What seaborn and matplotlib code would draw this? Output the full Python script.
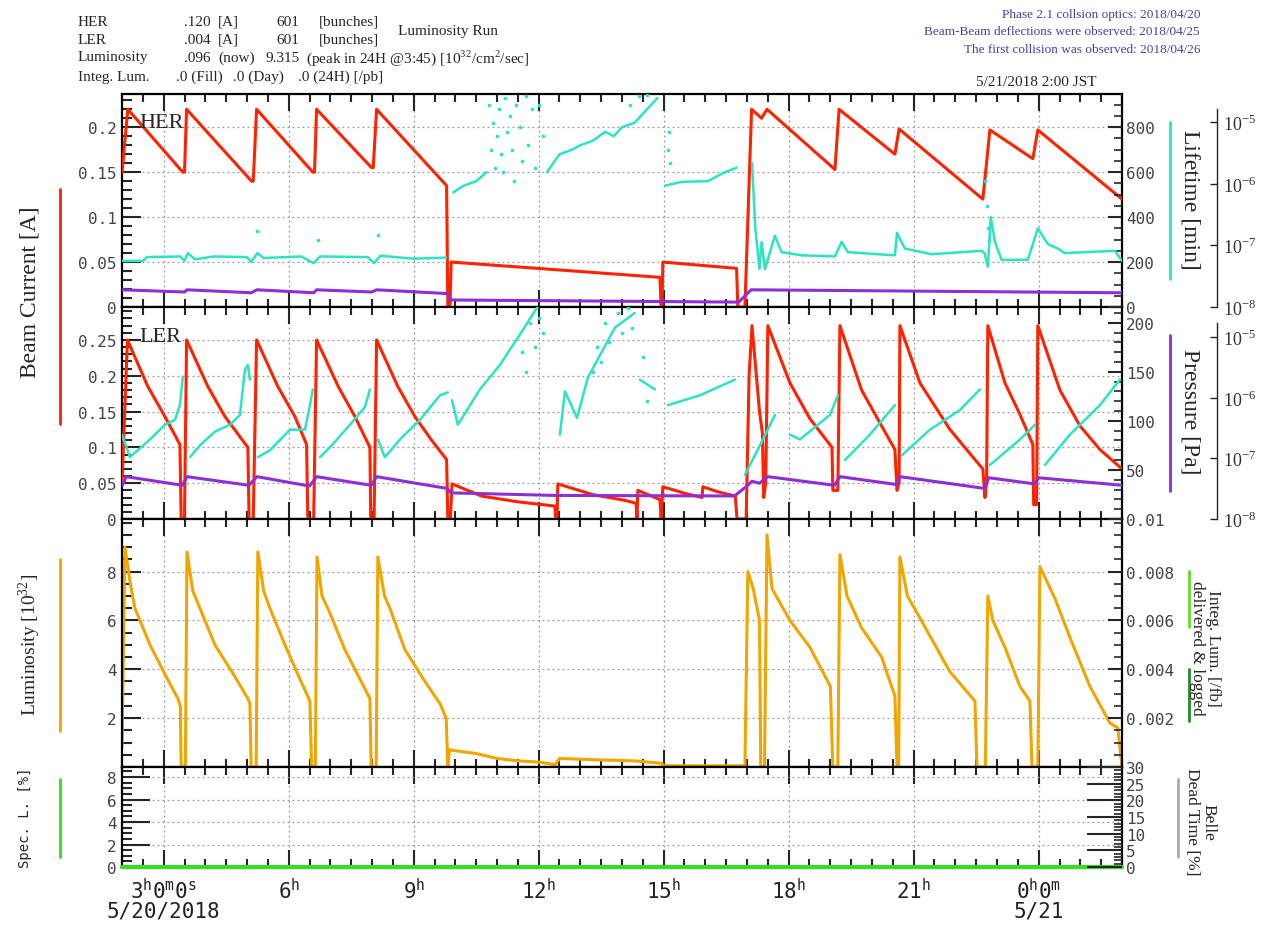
import numpy as np
import pandas as pd
import matplotlib.pyplot as plt
import matplotlib.ticker as mticker
from matplotlib.lines import Line2D
import seaborn as sns

sns.set_style("ticks")
plt.rcParams["font.family"] = ["Liberation Serif", "DejaVu Serif"]
plt.rcParams["mathtext.fontset"] = "custom"
plt.rcParams["mathtext.rm"] = "Liberation Serif"
plt.rcParams["mathtext.tt"] = "DejaVu Sans Mono"

N = np.nan
RED = "#ff2200"
CYAN = "#2ae4c4"
PURPLE = "#8e2fd6"
ORANGE = "#f0a500"
GREEN = "#33dd22"
MONO = "DejaVu Sans Mono"

# time axis: hours since 5/20 0:00
hour_ticks = [3, 6, 9, 12, 15, 18, 21, 24]
hour_labels = [r"$\mathtt{3}^{\mathtt{h}}\mathtt{0}^{\mathtt{m}}\mathtt{0}^{\mathtt{s}}$",
               r"$\mathtt{6}^{\mathtt{h}}$", r"$\mathtt{9}^{\mathtt{h}}$",
               r"$\mathtt{12}^{\mathtt{h}}$", r"$\mathtt{15}^{\mathtt{h}}$",
               r"$\mathtt{18}^{\mathtt{h}}$", r"$\mathtt{21}^{\mathtt{h}}$",
               r"$\mathtt{0}^{\mathtt{h}}\mathtt{0}^{\mathtt{m}}$"]

# HER beam current [A]
her_current = [(2.00, 0.15), (2.14, 0.22), (3.46, 0.15), (3.50, 0.15), (3.55, 0.22),
               (5.11, 0.14), (5.15, 0.14), (5.23, 0.22), (6.58, 0.15), (6.62, 0.15), (6.67, 0.22),
               (7.99, 0.155), (8.03, 0.155), (8.11, 0.22), (9.79, 0.135), (9.82, 0.0), (9.87, 0.0),
               (9.90, 0.05), (14.91, 0.033), (14.94, 0.0), (14.96, 0.0), (14.98, 0.05),
               (16.75, 0.043), (16.78, 0.0), (16.95, 0.0), (17.11, 0.22), (17.35, 0.21),
               (17.48, 0.22), (19.11, 0.153), (19.21, 0.22), (20.55, 0.17), (20.65, 0.198),
               (22.66, 0.12), (22.83, 0.197), (23.86, 0.165), (23.98, 0.197), (26.00, 0.12)]

# HER lifetime [min]
her_life = [(2.00, 205), (2.5, 205), (2.6, 222), (3.4, 225), (3.5, 205), (3.58, 240), (3.75, 212),
            (4.2, 225), (5.0, 222), (5.1, 200), (5.25, 240), (5.4, 218), (6.3, 225), (6.6, 195),
            (6.75, 225), (7.9, 222), (8.05, 195), (8.2, 228), (9.0, 215), (9.78, 220), (N, N),
            (9.95, 510), (10.2, 540), (10.5, 560), (10.75, 600), (N, N),
            (12.2, 600), (12.5, 680), (12.8, 700), (13.0, 720), (13.3, 740), (13.6, 780),
            (13.8, 760), (14.0, 800), (14.3, 820), (14.5, 860), (14.7, 900), (14.85, 930), (N, N),
            (15.03, 540), (15.43, 557), (16.06, 560), (16.47, 600), (16.75, 620), (N, N),
            (17.12, 640), (17.2, 350), (17.3, 170), (17.35, 289), (17.43, 169), (17.67, 317),
            (17.83, 244), (18.31, 230), (19.11, 225), (19.27, 290), (19.42, 244), (20.55, 230),
            (20.6, 330), (20.79, 260), (21.43, 235), (22.63, 250), (22.7, 240), (22.78, 180),
            (22.85, 400), (22.95, 290), (23.11, 210), (23.74, 210), (23.98, 350), (24.22, 280),
            (24.46, 260), (24.62, 240), (25.83, 250), (26.0, 205)]

her_life_dots = [(10.8, 900), (10.85, 700), (10.9, 820), (10.95, 620), (11.0, 760), (11.05, 880),
                 (11.1, 680), (11.15, 600), (11.2, 930), (11.25, 780), (11.3, 850), (11.35, 700),
                 (11.4, 560), (11.45, 900), (11.55, 800), (11.6, 650), (11.7, 940), (11.75, 720),
                 (11.85, 880), (11.9, 620), (12.0, 900), (12.1, 760), (14.2, 900), (14.4, 940),
                 (14.6, 945), (15.1, 700), (15.12, 780), (15.15, 640), (22.72, 560), (22.75, 450),
                 (22.78, 350), (22.8, 300), (5.24, 340), (6.7, 300), (8.15, 320)]

# HER pressure [Pa]
her_press = [(2.00, 1.9e-8), (3.50, 1.75e-8), (3.56, 1.9e-8), (5.10, 1.7e-8), (5.24, 1.9e-8),
             (6.60, 1.7e-8), (6.67, 1.9e-8), (8.00, 1.75e-8), (8.11, 1.9e-8), (9.80, 1.65e-8),
             (9.90, 1.3e-8), (16.80, 1.2e-8), (17.10, 1.9e-8), (26.00, 1.7e-8)]

# LER beam current [A]
ler_current = [(2.00, 0.05), (2.13, 0.25), (2.62, 0.185), (3.03, 0.143), (3.39, 0.104), (3.42, 0.0),
               (3.50, 0.0), (3.55, 0.25), (4.06, 0.185), (4.47, 0.143), (5.02, 0.10), (5.05, 0.0),
               (5.15, 0.0), (5.23, 0.25), (5.74, 0.185), (6.15, 0.143), (6.43, 0.104), (6.46, 0.0),
               (6.60, 0.0), (6.67, 0.25), (7.19, 0.185), (7.59, 0.143), (7.95, 0.10), (7.97, 0.0),
               (8.05, 0.0), (8.11, 0.25), (8.62, 0.185), (9.03, 0.143), (9.43, 0.11), (9.79, 0.083),
               (9.82, 0.0), (9.88, 0.0), (9.92, 0.049), (10.63, 0.032), (11.5, 0.024), (12.39, 0.018),
               (12.41, 0.0), (12.44, 0.0), (12.46, 0.049), (13.3, 0.034), (14.07, 0.026),
               (14.34, 0.022), (14.36, 0.0), (14.38, 0.04), (14.91, 0.027), (14.94, 0.0),
               (14.98, 0.045), (15.5, 0.036), (15.92, 0.030), (15.94, 0.045), (16.3, 0.038),
               (16.72, 0.032), (16.76, 0.0), (16.98, 0.0), (17.05, 0.2), (17.12, 0.27), (17.3, 0.15),
               (17.37, 0.12), (17.40, 0.03), (17.45, 0.05), (17.50, 0.27), (18.03, 0.19),
               (18.51, 0.14), (19.04, 0.10), (19.06, 0.04), (19.18, 0.04), (19.23, 0.27),
               (19.75, 0.18), (20.23, 0.13), (20.55, 0.097), (20.60, 0.04), (20.65, 0.05),
               (20.67, 0.27), (21.15, 0.19), (21.87, 0.125), (22.47, 0.083), (22.66, 0.07),
               (22.71, 0.03), (22.75, 0.05), (22.78, 0.27), (23.19, 0.19), (23.55, 0.146),
               (23.86, 0.104), (23.88, 0.02), (23.95, 0.02), (23.98, 0.27), (24.51, 0.18),
               (24.99, 0.13), (25.47, 0.097), (26.0, 0.07)]

# LER lifetime (right axis units)
ler_life = [(2.00, 86), (2.19, 63), (2.67, 81), (3.03, 96), (3.27, 101), (3.39, 116), (3.46, 145), (N, N),
            (3.63, 63), (3.87, 75), (4.23, 89), (4.59, 96), (4.83, 106), (4.95, 152), (5.02, 157),
            (5.07, 142), (N, N), (5.26, 63), (5.55, 70), (6.03, 91), (6.39, 91), (6.51, 116),
            (6.58, 132), (N, N), (6.75, 63), (6.99, 73), (7.47, 96), (7.83, 114), (7.95, 132), (N, N),
            (8.14, 81), (8.31, 63), (8.67, 81), (9.15, 101), (9.63, 126), (9.82, 129), (N, N),
            (9.92, 121), (10.06, 96), (10.59, 132), (11.07, 157), (11.55, 188), (12.03, 220), (N, N),
            (12.51, 86), (12.63, 130), (12.92, 103), (13.18, 144), (13.83, 195), (14.31, 210), (N, N),
            (14.43, 142), (14.79, 132), (N, N), (15.10, 116), (15.87, 126), (16.71, 142), (N, N),
            (16.95, 45), (17.31, 75), (17.67, 106), (N, N), (18.03, 86), (18.27, 81), (18.99, 106),
            (19.18, 126), (N, N), (19.35, 60), (19.95, 86), (20.55, 116), (N, N), (20.72, 65),
            (21.39, 91), (22.11, 111), (22.59, 132), (N, N), (22.83, 55), (23.55, 81), (23.91, 96),
            (N, N), (24.15, 55), (24.75, 86), (25.47, 116), (25.95, 142)]

ler_life_dots = [(11.6, 170), (11.7, 150), (11.8, 200), (11.9, 175), (12.0, 205), (12.1, 190),
                 (13.3, 150), (13.4, 175), (13.5, 160), (13.6, 200), (13.7, 180), (13.9, 210),
                 (14.0, 190), (14.15, 215), (14.25, 195), (14.5, 165), (14.6, 120)]

# LER pressure [Pa]
ler_press = [(2.00, 3.5e-8), (2.10, 5.0e-8), (3.45, 3.6e-8), (3.56, 5.0e-8), (5.05, 3.6e-8),
             (5.24, 5.0e-8), (6.50, 3.5e-8), (6.67, 5.0e-8), (7.98, 3.6e-8), (8.11, 5.0e-8),
             (9.80, 3.2e-8), (9.90, 2.7e-8), (12.40, 2.45e-8), (16.70, 2.4e-8), (17.00, 3.5e-8),
             (17.12, 4.2e-8), (17.30, 3.9e-8), (17.50, 5.0e-8), (19.10, 3.6e-8), (19.23, 5.0e-8),
             (20.60, 3.7e-8), (20.67, 5.0e-8), (22.70, 3.2e-8), (22.80, 4.8e-8), (23.90, 3.8e-8),
             (24.00, 4.8e-8), (26.00, 3.6e-8)]

# luminosity [10^32]
lum = [(2.00, 0.8), (2.07, 9.0), (2.2, 7.5), (2.31, 6.5), (2.67, 5.0), (3.03, 3.8), (3.34, 2.8),
       (3.40, 2.5), (3.42, 0.0), (3.52, 0.0), (3.56, 8.8), (3.7, 7.2), (3.87, 6.5), (4.23, 5.0),
       (4.71, 3.7), (5.02, 2.8), (5.07, 2.6), (5.10, 0.0), (5.22, 0.0), (5.26, 8.8), (5.4, 7.2),
       (5.55, 6.5), (5.91, 5.0), (6.27, 3.6), (6.51, 2.7), (6.55, 0.0), (6.64, 0.0), (6.68, 8.6),
       (6.8, 7.0), (6.99, 6.3), (7.35, 4.8), (7.71, 3.6), (7.95, 2.8), (7.98, 0.0), (8.10, 0.0),
       (8.14, 8.6), (8.3, 7.0), (8.43, 6.5), (8.79, 4.8), (9.27, 3.5), (9.63, 2.6), (9.78, 2.0),
       (9.82, 0.0), (9.86, 0.7), (10.5, 0.55), (11.0, 0.35), (11.5, 0.25), (12.0, 0.2), (12.4, 0.1),
       (12.5, 0.35), (13.3, 0.3), (14.3, 0.25), (14.95, 0.15), (15.0, 0.05), (16.95, 0.05),
       (17.02, 8.0), (17.15, 7.3), (17.30, 6.0), (17.33, 0.0), (17.42, 0.0), (17.48, 9.5),
       (17.6, 7.3), (18.03, 6.0), (18.51, 4.9), (19.0, 3.3), (19.06, 0.0), (19.18, 0.0),
       (19.23, 8.7), (19.4, 7.0), (19.75, 5.7), (20.23, 4.5), (20.55, 2.9), (20.60, 0.0),
       (20.64, 0.0), (20.67, 8.6), (20.85, 7.0), (21.15, 6.1), (21.87, 3.9), (22.47, 2.7),
       (22.52, 0.0), (22.72, 0.0), (22.78, 7.0), (22.9, 6.0), (23.19, 4.9), (23.55, 3.3),
       (23.79, 2.7), (23.84, 0.0), (23.98, 0.0), (24.03, 8.2), (24.39, 6.9), (24.75, 5.3),
       (25.23, 3.3), (25.71, 1.8), (25.90, 1.6), (26.0, 0.0)]

# specific luminosity [%]
spec_l = [(2.0, 0.0), (26.0, 0.0)]

lum_ticks = [2, 4, 6, 8]
integ_ticks = [0.002, 0.004, 0.006, 0.008]


def px(x, y):
    return x / 1267, 1 - y / 928


def draw(ax, pts, color, lw, z=2):
    df = pd.DataFrame(pts, columns=["t", "v"])
    df["seg"] = df["v"].isna().cumsum()
    df = df.dropna()
    sns.lineplot(data=df, x="t", y="v", units="seg", estimator=None, sort=False,
                 color=color, lw=lw, ax=ax, legend=False, zorder=z)
    ax.set_xlabel("")
    ax.set_ylabel("")


def dots(ax, pts, color):
    df = pd.DataFrame(pts, columns=["t", "v"])
    sns.scatterplot(data=df, x="t", y="v", color=color, s=7, linewidth=0, ax=ax, legend=False)
    ax.set_xlabel("")
    ax.set_ylabel("")


def style_main(ax, major, minor, fmt):
    ax.set_xlim(2, 26)
    ax.xaxis.set_major_locator(mticker.FixedLocator(hour_ticks))
    ax.xaxis.set_minor_locator(mticker.MultipleLocator(0.5))
    if isinstance(major, list):
        ax.yaxis.set_major_locator(mticker.FixedLocator(major))
    else:
        ax.yaxis.set_major_locator(mticker.MultipleLocator(major))
    ax.yaxis.set_minor_locator(mticker.MultipleLocator(minor))
    ax.yaxis.set_major_formatter(mticker.FuncFormatter(fmt))
    ax.tick_params(axis="both", which="both", direction="in", top=True, right=False,
                   width=1.5, labelbottom=False)
    ax.tick_params(axis="x", which="major", length=12)
    ax.tick_params(axis="x", which="minor", length=6)
    ax.tick_params(axis="y", which="major", length=14, labelsize=11.5, labelcolor="#444444",
                   labelfontfamily=MONO, pad=4)
    ax.tick_params(axis="y", which="minor", length=7)
    ax.grid(True, which="major", ls=(0, (1.5, 2.5)), color="#999999", lw=0.9)
    for s in ax.spines.values():
        s.set_linewidth(1.6)
        s.set_color("black")


def style_right(ax, lim, major, minor, fmt, maj_len=10):
    ax.set_ylim(*lim)
    if isinstance(major, list):
        ax.yaxis.set_major_locator(mticker.FixedLocator(major))
    else:
        ax.yaxis.set_major_locator(mticker.MultipleLocator(major))
    ax.yaxis.set_minor_locator(mticker.MultipleLocator(minor))
    ax.yaxis.set_major_formatter(mticker.FuncFormatter(fmt))
    ax.tick_params(axis="y", which="major", direction="in", length=maj_len, width=1.5,
                   labelsize=11.5, labelcolor="#444444", labelfontfamily=MONO, pad=3)
    ax.tick_params(axis="y", which="minor", direction="in", length=6, width=1.2)
    for k in ["left", "top", "bottom", "right"]:
        ax.spines[k].set_visible(False)


def style_log(ax, top, spine_top):
    ax.set_yscale("log")
    ax.set_ylim(1e-8, top)
    ax.spines["right"].set_position(("axes", 1.095))
    ax.spines["right"].set_bounds(1e-8, spine_top)
    ax.spines["right"].set_linewidth(1.0)
    for k in ["left", "top", "bottom"]:
        ax.spines[k].set_visible(False)
    ax.yaxis.set_major_locator(mticker.FixedLocator([1e-8, 1e-7, 1e-6, 1e-5]))
    ax.yaxis.set_major_formatter(mticker.FixedFormatter(
        [r"10$^{-8}$", r"10$^{-7}$", r"10$^{-6}$", r"10$^{-5}$"]))
    ax.yaxis.set_minor_locator(mticker.NullLocator())
    ax.tick_params(axis="y", which="major", direction="in", length=5, width=1.0,
                   labelsize=13, labelcolor="#333333", pad=4)


fig = plt.figure(figsize=(12.67, 9.28), dpi=100)
L, W = 122 / 1267, 1000 / 1267
ax_her = fig.add_axes([L, 1 - 308 / 928, W, 213 / 928])
ax_ler = fig.add_axes([L, 1 - 520 / 928, W, 212 / 928], sharex=ax_her)
ax_lum = fig.add_axes([L, 1 - 768 / 928, W, 248 / 928], sharex=ax_her)
ax_spec = fig.add_axes([L, 1 - 868 / 928, W, 100 / 928], sharex=ax_her)

gfmt = lambda v, p: "0" if abs(v) < 1e-12 else ("%g" % v)

# ---- HER panel
draw(ax_her, her_current, RED, 2.2, z=4)
ax_her.set_ylim(0, 0.237)
style_main(ax_her, 0.05, 0.01, gfmt)
ax_her2 = ax_her.twinx()
draw(ax_her2, her_life, CYAN, 1.8)
dots(ax_her2, her_life_dots, CYAN)
style_right(ax_her2, (0, 948), 200, 50, gfmt)
ax_her3 = ax_her.twinx()
draw(ax_her3, her_press, PURPLE, 2.2)
style_log(ax_her3, 10 ** -4.55, 10 ** -4.79)
ax_her.text(0.017, 0.845, "HER", transform=ax_her.transAxes, fontsize=16, zorder=6)

# ---- LER panel
draw(ax_ler, ler_current, RED, 2.2, z=4)
ax_ler.set_ylim(0, 0.296)
style_main(ax_ler, 0.05, 0.01, gfmt)
ax_ler2 = ax_ler.twinx()
draw(ax_ler2, ler_life, CYAN, 1.8)
dots(ax_ler2, ler_life_dots, CYAN)
style_right(ax_ler2, (0, 216), 50, 10, lambda v, p: "0.01" if abs(v) < 1e-9 else "%g" % v)
ax_ler3 = ax_ler.twinx()
draw(ax_ler3, ler_press, PURPLE, 2.2)
style_log(ax_ler3, 10 ** -4.5, 10 ** -4.77)
ax_ler.text(0.017, 0.84, "LER", transform=ax_ler.transAxes, fontsize=16, zorder=6)

# ---- luminosity panel
draw(ax_lum, lum, ORANGE, 2.2)
ax_lum.set_ylim(0, 10.15)
style_main(ax_lum, lum_ticks, 0.5, lambda v, p: "%g" % v)
ax_lum2 = ax_lum.twinx()
style_right(ax_lum2, (0, 0.01015), integ_ticks, 0.0005, lambda v, p: "%.3f" % v)

# ---- specific luminosity / dead time panel
draw(ax_spec, spec_l, GREEN, 3.0, z=5)
for l in ax_spec.get_lines():
    l.set_clip_on(False)
ax_spec.set_ylim(0, 8.9)
style_main(ax_spec, 2, 0.5, gfmt)
ax_spec.tick_params(axis="y", which="major", length=20)
ax_spec.tick_params(axis="x", which="major", labelbottom=True, labelsize=15, labelcolor="#222222",
                    pad=8)
ax_spec.xaxis.set_major_formatter(mticker.FixedFormatter(hour_labels))
ax_spec2 = ax_spec.twinx()
style_right(ax_spec2, (0, 30), 5, 1, gfmt, maj_len=25)
ax_spec.set_xlim(2, 26)

fig.text(*px(163, 912), "5/20/2018", fontsize=15, family=MONO, color="#222222", ha="center", va="center")
fig.text(*px(1039, 912), "5/21", fontsize=15, family=MONO, color="#222222", ha="center", va="center")

# ---- axis titles and colour keys
def bar(x, y0, y1, color, lw=2.0):
    fig.add_artist(Line2D([x / 1267, x / 1267], [1 - y0 / 928, 1 - y1 / 928],
                          transform=fig.transFigure, color=color, lw=lw))


fig.text(*px(30, 292), "Beam Current [A]", rotation=90, fontsize=17, ha="center", va="center")
bar(60, 190, 425, RED)
fig.text(*px(30, 645), r"Luminosity [10$^{32}$]", rotation=90, fontsize=14, ha="center", va="center")
bar(60, 560, 732, ORANGE)
fig.text(*px(25, 818), "Spec. L. [%]", rotation=90, fontsize=10, family=MONO, ha="center", va="center")
bar(60, 780, 858, GREEN)

fig.text(*px(1190, 200), "Lifetime [min]", rotation=270, fontsize=17, ha="center", va="center")
bar(1170, 123, 280, CYAN)
fig.text(*px(1190, 412), "Pressure [Pa]", rotation=270, fontsize=17, ha="center", va="center")
bar(1170, 336, 492, PURPLE)
fig.text(*px(1205, 648), "Integ. Lum. [/fb]\ndelivered & logged", rotation=270, fontsize=12.5,
         ha="center", va="center", linespacing=1.0)
bar(1189, 572, 628, "#66dd22")
bar(1189, 670, 722, "#228b22")
fig.text(*px(1200, 822), "Belle\nDead Time [%]", rotation=270, fontsize=12.5,
         ha="center", va="center", linespacing=1.0)
bar(1178, 780, 858, "#aaaaaa")

# ---- header
hdr = dict(fontsize=11, va="center")
rows = [22, 40, 58, 77]
fig.text(*px(78, rows[0]), "HER", **hdr)
fig.text(*px(211, rows[0]), ".120", ha="right", **hdr)
fig.text(*px(218, rows[0]), "[A]", **hdr)
fig.text(*px(299, rows[0]), "601", ha="right", **hdr)
fig.text(*px(319, rows[0]), "[bunches]", **hdr)
fig.text(*px(78, rows[1]), "LER", **hdr)
fig.text(*px(211, rows[1]), ".004", ha="right", **hdr)
fig.text(*px(218, rows[1]), "[A]", **hdr)
fig.text(*px(299, rows[1]), "601", ha="right", **hdr)
fig.text(*px(319, rows[1]), "[bunches]", **hdr)
fig.text(*px(448, 32), "Luminosity Run", ha="center", **hdr)
fig.text(*px(78, rows[2]), "Luminosity", **hdr)
fig.text(*px(211, rows[2]), ".096", ha="right", **hdr)
fig.text(*px(218, rows[2]), "(now)", **hdr)
fig.text(*px(300, rows[2]), "9.315", ha="right", **hdr)
fig.text(*px(306, rows[2]), r"(peak in 24H @3:45) [10$^{32}$/cm$^{2}$/sec]", **hdr)
fig.text(*px(78, rows[3]), "Integ. Lum.", **hdr)
fig.text(*px(176, rows[3]), ".0 (Fill)", **hdr)
fig.text(*px(233, rows[3]), ".0 (Day)", **hdr)
fig.text(*px(298, rows[3]), ".0 (24H) [/pb]", **hdr)

note = dict(fontsize=9.5, color="#4b3f9e", ha="right", va="center")
fig.text(*px(1200, 15), "Phase 2.1 collsion optics: 2018/04/20", **note)
fig.text(*px(1200, 32), "Beam-Beam deflections were observed: 2018/04/25", **note)
fig.text(*px(1200, 50), "The first collision was observed: 2018/04/26", **note)
fig.text(*px(1097, 82), "5/21/2018 2:00 JST", fontsize=11, ha="right", va="center")

fig.savefig("out.png", dpi=100)
